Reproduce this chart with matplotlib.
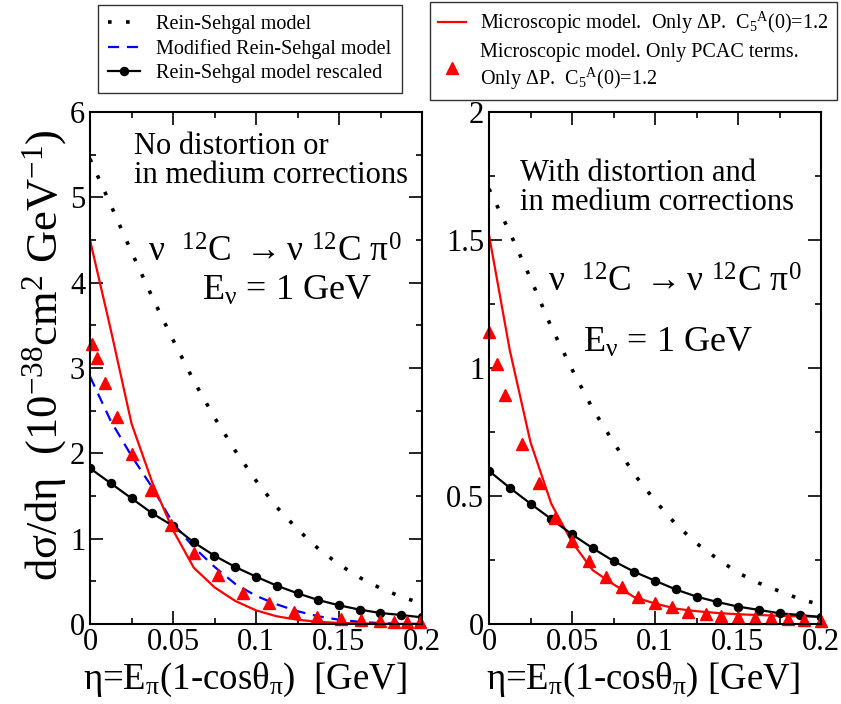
import numpy as np
import matplotlib
matplotlib.use("Agg")
import matplotlib.pyplot as plt
from matplotlib.ticker import MultipleLocator
from matplotlib.lines import Line2D

plt.rcParams['font.family'] = ['Liberation Serif', 'DejaVu Serif']
plt.rcParams['mathtext.fontset'] = 'custom'
plt.rcParams['mathtext.rm'] = 'Liberation Serif'
plt.rcParams['mathtext.it'] = 'Liberation Serif'
plt.rcParams['mathtext.bf'] = 'Liberation Serif'

# ---------------- data ----------------
eta = [0.0, 0.0125, 0.025, 0.0375, 0.05, 0.0625, 0.075, 0.0875, 0.1,
       0.1125, 0.125, 0.1375, 0.15, 0.1625, 0.175, 0.1875, 0.2]

# Left panel: no distortion / no medium corrections
rs_left = [5.45, 4.91, 4.36, 3.83, 3.33, 2.85, 2.42, 2.03, 1.68,
           1.37, 1.11, 0.883, 0.698, 0.544, 0.419, 0.319, 0.24]
mod_rs_left = [2.9, 2.38, 1.97, 1.60, 1.18, 0.90, 0.67, 0.47, 0.33,
               0.23, 0.15, 0.09, 0.05, 0.025, 0.01, 0.003, 0.0]
rescaled_left = [1.825, 1.649, 1.473, 1.297, 1.149, 0.957, 0.80, 0.668, 0.555,
                 0.449, 0.36, 0.281, 0.219, 0.168, 0.129, 0.105, 0.078]
micro_left = [4.5, 3.45, 2.35, 1.66, 1.10, 0.66, 0.43, 0.27, 0.16,
              0.09, 0.05, 0.025, 0.012, 0.006, 0.003, 0.001, 0.0]
pcac_eta_left = [0.001, 0.004, 0.009, 0.0165, 0.025, 0.0367, 0.0486, 0.0627,
                 0.0773, 0.092, 0.1078, 0.1229, 0.137, 0.151, 0.163, 0.175,
                 0.183, 0.191, 0.199]
pcac_left = [3.28, 3.12, 2.82, 2.43, 1.99, 1.57, 1.16, 0.836, 0.574, 0.367,
             0.243, 0.137, 0.086, 0.055, 0.047, 0.035, 0.027, 0.027, 0.027]

# Right panel: with distortion and medium corrections
rs_right = [1.70, 1.53, 1.35, 1.16, 0.995, 0.84, 0.71, 0.585, 0.482,
            0.39, 0.315, 0.255, 0.20, 0.16, 0.128, 0.097, 0.075]
rescaled_right = [0.598, 0.532, 0.47, 0.41, 0.35, 0.296, 0.246, 0.204, 0.169,
                  0.135, 0.107, 0.086, 0.068, 0.055, 0.042, 0.035, 0.027]
micro_right = [1.52, 1.07, 0.71, 0.47, 0.32, 0.21, 0.155, 0.105, 0.08,
               0.06, 0.05, 0.043, 0.038, 0.035, 0.032, 0.03, 0.028]
pcac_eta_right = [0.0, 0.005, 0.0096, 0.0196, 0.030, 0.040, 0.0497, 0.0603,
                  0.0704, 0.080, 0.090, 0.1, 0.110, 0.120, 0.1305, 0.140,
                  0.150, 0.160, 0.170, 0.180, 0.190, 0.2]
pcac_right = [1.14, 1.014, 0.894, 0.703, 0.55, 0.414, 0.325, 0.247, 0.185,
              0.143, 0.107, 0.083, 0.065, 0.048, 0.039, 0.031, 0.029, 0.025,
              0.022, 0.018, 0.016, 0.013]

x_ticks = [0, 0.05, 0.1, 0.15, 0.2]
x_ticklabels = ['0', '0.05', '0.1', '0.15', '0.2']
yL_ticks = [0, 1, 2, 3, 4, 5, 6]
yL_ticklabels = ['0', '1', '2', '3', '4', '5', '6']
yR_ticks = [0, 0.5, 1, 1.5, 2]
yR_ticklabels = ['0', '0.5', '1', '1.5', '2']

# ---------------- figure ----------------
W, H = 841, 704
fig = plt.figure(figsize=(W / 100, H / 100), dpi=100)

def fx(px):
    return px / W

def fy(py):
    return 1 - py / H

axL = fig.add_axes([fx(90), fy(624), fx(422) - fx(90), fy(112) - fy(624)])
axR = fig.add_axes([fx(489), fy(624), fx(821) - fx(489), fy(112) - fy(624)])

dot_style = dict(color='black', lw=2.6, linestyle=(0, (1.0, 4.0)),
                 dash_capstyle='butt')
circ_style = dict(color='black', lw=1.6, marker='o', markersize=5.8)
red_style = dict(color='#ff0000', lw=1.6)
tri_style = dict(color='#ff0000', linestyle='none', marker='^', markersize=8)
blue_style = dict(color='#0000ff', lw=1.6, linestyle=(0, (5.0, 3.5)))

# left
axL.plot(eta, rs_left, **dot_style)
axL.plot(eta, mod_rs_left, **blue_style)
axL.plot(eta, micro_left, **red_style)
axL.plot(eta, rescaled_left, **circ_style)
axL.plot(pcac_eta_left, pcac_left, clip_on=False, **tri_style)

# right
axR.plot(eta, rs_right, **dot_style)
axR.plot(eta, micro_right, **red_style)
axR.plot(eta, rescaled_right, **circ_style)
axR.plot(pcac_eta_right, pcac_right, clip_on=False, **tri_style)

for ax, ymax, yt, ytl, ymin in [(axL, 6, yL_ticks, yL_ticklabels, 0.5),
                                (axR, 2, yR_ticks, yR_ticklabels, 0.25)]:
    ax.set_xlim(0, 0.2)
    ax.set_ylim(0, ymax)
    ax.set_xticks(x_ticks, x_ticklabels)
    ax.set_yticks(yt, ytl)
    ax.xaxis.set_minor_locator(MultipleLocator(0.025))
    ax.yaxis.set_minor_locator(MultipleLocator(ymin))
    ax.tick_params(which='both', direction='in', top=True, right=True,
                   width=1.2, labelsize=22)
    ax.tick_params(which='major', length=9.5)
    ax.tick_params(which='minor', length=4.5)
    ax.tick_params(axis='y', pad=3.5)
    ax.tick_params(axis='x', pad=3)
    for s in ax.spines.values():
        s.set_linewidth(1.5)

# axis labels
fig.text(fx(45), fy(355), r'd$\sigma$/d$\eta$  (10$^{-38}$cm$^{2}$ GeV$^{-1}$)',
         rotation=90, ha='center', va='center', fontsize=32)
fig.text(fx(245), fy(689), r'$\eta$=E$_{\pi}$(1-cos$\theta_{\pi}$)  [GeV]',
         ha='center', va='baseline', fontsize=26.5)
fig.text(fx(643), fy(689), r'$\eta$=E$_{\pi}$(1-cos$\theta_{\pi}$) [GeV]',
         ha='center', va='baseline', fontsize=26.5)

# annotations
fig.text(fx(134), fy(183), 'No distortion or\nin medium corrections',
         ha='left', va='baseline', fontsize=22, linespacing=1.0)
fig.text(fx(148), fy(262), r'$\nu$  $^{12}$C $\rightarrow$$\nu$ $^{12}$C $\pi^{0}$',
         ha='left', va='baseline', fontsize=25.5)
fig.text(fx(202), fy(300), r'E$_{\nu}$ = 1 GeV',
         ha='left', va='baseline', fontsize=26)

fig.text(fx(520), fy(210), 'With distortion and\nin medium corrections',
         ha='left', va='baseline', fontsize=22, linespacing=1.0)
fig.text(fx(548), fy(292), r'$\nu$  $^{12}$C $\rightarrow$$\nu$ $^{12}$C $\pi^{0}$',
         ha='left', va='baseline', fontsize=25.5)
fig.text(fx(583), fy(352), r'E$_{\nu}$ = 1 GeV',
         ha='left', va='baseline', fontsize=26)

# legends
hL = [Line2D([], [], **dot_style), Line2D([], [], **blue_style),
      Line2D([], [], **circ_style)]
labL = ['Rein-Sehgal model', 'Modified Rein-Sehgal model',
        'Rein-Sehgal model rescaled']
legL = fig.legend(hL, labL, loc='upper left', bbox_to_anchor=(fx(98), fy(5)),
                  fontsize=14.5, frameon=True, fancybox=False, handlelength=1.6,
                  handletextpad=0.8, borderpad=0.5, borderaxespad=0,
                  labelspacing=0.25)
legL.get_frame().set_edgecolor('black')
legL.get_frame().set_linewidth(1.0)

hR = [Line2D([], [], **red_style), Line2D([], [], **tri_style)]
labR = [r'Microscopic model.  Only $\Delta$P.  C$_{5}$$^{A}$(0)=1.2',
        'Microscopic model. Only PCAC terms.\n' + r'Only $\Delta$P.  C$_{5}$$^{A}$(0)=1.2']
legR = fig.legend(hR, labR, loc='upper left', bbox_to_anchor=(fx(430), fy(2)),
                  fontsize=14.5, frameon=True, fancybox=False, handlelength=1.4,
                  handletextpad=0.7, borderpad=0.4, borderaxespad=0,
                  labelspacing=0.35)
legR.get_frame().set_edgecolor('black')
legR.get_frame().set_linewidth(1.0)

fig.savefig('out.png', dpi=100)
